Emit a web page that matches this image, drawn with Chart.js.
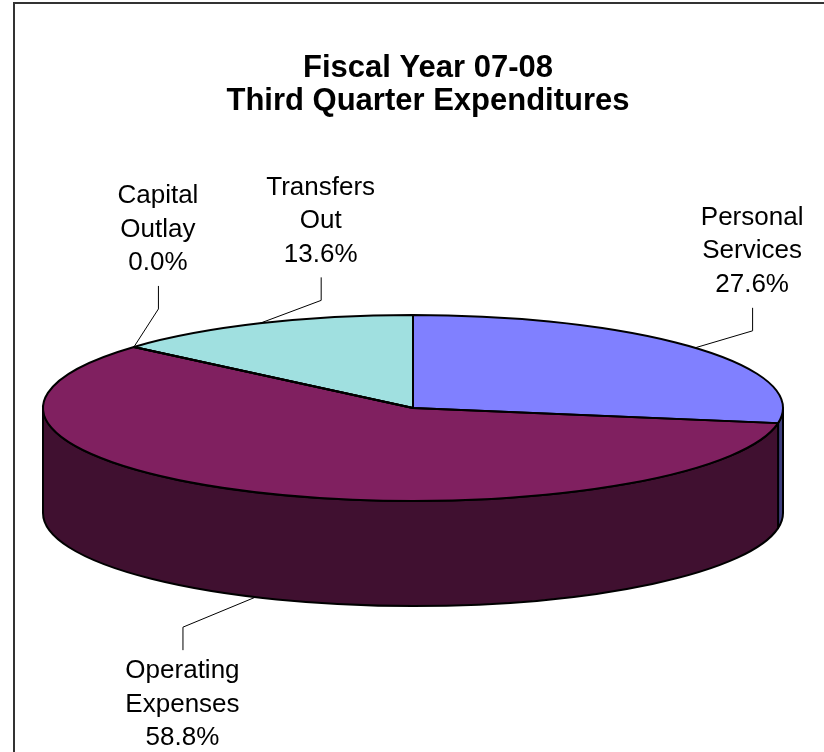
<!DOCTYPE html>
<html>
<head>
<meta charset="utf-8">
<script src="https://cdn.jsdelivr.net/npm/chart.js@4.4.0/dist/chart.umd.min.js"></script>
<style>
  html, body { margin: 0; padding: 0; background: #fff; }
  #wrap { width: 824px; height: 752px; position: relative; }
</style>
</head>
<body>
<div id="wrap"><canvas id="chart"></canvas></div>
<script>
// expenditure shares, third quarter FY 07-08
const categories = ["Personal Services", "Operating Expenses", "Capital Outlay", "Transfers Out"];
const shares = [27.6, 58.8, 0.0, 13.6];
const titleLines = ["Fiscal Year 07-08", "Third Quarter Expenditures"];

const topColors = ["#8080FF", "#802060", "#FFFFC0", "#A0E0E0"];
const sideColors = ["#404080", "#401030", "#808060", "#507070"];

// flattened pie geometry
const pie = { cx: 413, cy: 408, rx: 370, ry: 93, depth: 105 };
// label placement relative to the leader anchor: [dx, end of leader dy]
const labelOffsets = [[57, -40], [-73, 53], [24, -61], [61, -46]];

const FONT = "'Liberation Sans', Arial, sans-serif";

var pie3d = {
    id: "pie3d",
    beforeDraw: function (chart) {
        var ctx = chart.ctx;
        ctx.save();
        ctx.strokeStyle = "#333";
        ctx.lineWidth = 2;
        ctx.strokeRect(14, 3, 1000, 1000);
        ctx.restore();
    },
    beforeDatasetsDraw: function (chart) {
        var ctx = chart.ctx;
        var arcs = chart.getDatasetMeta(0).data;

        // front walls of the slices
        arcs.forEach(function (arc, i) {
            var s = Math.max(arc.startAngle, 0);
            var e = Math.min(arc.endAngle, Math.PI);
            if (e <= s) return;
            ctx.beginPath();
            ctx.ellipse(pie.cx, pie.cy, pie.rx, pie.ry, 0, s, e);
            ctx.ellipse(pie.cx, pie.cy + pie.depth, pie.rx, pie.ry, 0, e, s, true);
            ctx.closePath();
            ctx.fillStyle = sideColors[i];
            ctx.fill();
            ctx.lineWidth = 2;
            ctx.strokeStyle = "#000";
            ctx.lineJoin = "round";
            ctx.stroke();
        });

        // squash the library's round pie onto the top ellipse
        var a = arcs[0];
        ctx.save();
        ctx.translate(pie.cx, pie.cy);
        ctx.scale(pie.rx / a.outerRadius, pie.ry / a.outerRadius);
        ctx.translate(-a.x, -a.y);
    },
    afterDatasetsDraw: function (chart) {
        var ctx = chart.ctx;
        ctx.restore();
        var arcs = chart.getDatasetMeta(0).data;

        // slice outlines on the top face
        ctx.save();
        ctx.lineWidth = 2;
        ctx.strokeStyle = "#000";
        ctx.lineJoin = "round";
        arcs.forEach(function (arc) {
            ctx.beginPath();
            ctx.moveTo(pie.cx, pie.cy);
            ctx.ellipse(pie.cx, pie.cy, pie.rx, pie.ry, 0, arc.startAngle, arc.endAngle);
            ctx.closePath();
            ctx.stroke();
        });
        ctx.restore();

        // data labels with leader lines
        ctx.save();
        ctx.font = "26px " + FONT;
        ctx.fillStyle = "#000";
        ctx.textAlign = "center";
        ctx.textBaseline = "middle";
        arcs.forEach(function (arc, i) {
            var mid = (arc.startAngle + arc.endAngle) / 2;
            var ax = pie.cx + pie.rx * Math.cos(mid);
            var ay = pie.cy + pie.ry * Math.sin(mid);
            if (Math.sin(mid) > 0) ay += pie.depth;
            var lx = ax + labelOffsets[i][0];
            var endY = ay + labelOffsets[i][1];
            var below = labelOffsets[i][1] > 0;
            var elbowY = below ? endY - 23 : endY + 23;

            ctx.beginPath();
            ctx.lineWidth = 1;
            ctx.strokeStyle = "#000";
            ctx.moveTo(ax, ay);
            ctx.lineTo(lx + 0.5, elbowY);
            ctx.lineTo(lx + 0.5, endY);
            ctx.stroke();

            var words = categories[i].split(" ");
            var lines = [words[0], words.slice(1).join(" "), shares[i].toFixed(1) + "%"];
            var step = 33.5;
            var firstY = below ? endY + 21 : endY - 23 - step * (lines.length - 1);
            lines.forEach(function (t, k) {
                ctx.fillText(t, lx, firstY + k * step);
            });
        });
        ctx.restore();
    }
};

var ctx = document.getElementById("chart").getContext("2d");
var myChart = new Chart(ctx, {
    type: "pie",
    data: {
        labels: categories,
        datasets: [
            {
                data: shares,
                backgroundColor: topColors,
                borderWidth: 0,
                clip: false,
            },
        ],
    },
    options: {
        responsive: true,
        maintainAspectRatio: false,
        animation: false,
        devicePixelRatio: 1,
        layout: { padding: { left: 32 } },
        plugins: {
            legend: { display: false },
            tooltip: { enabled: false },
            title: {
                display: true,
                text: titleLines,
                color: "#000",
                font: { family: FONT, size: 31, weight: "bold", lineHeight: 1.07 },
                padding: { top: 52, bottom: 10 },
            },
        },
    },
    plugins: [pie3d],
});
</script>
</body>
</html>
